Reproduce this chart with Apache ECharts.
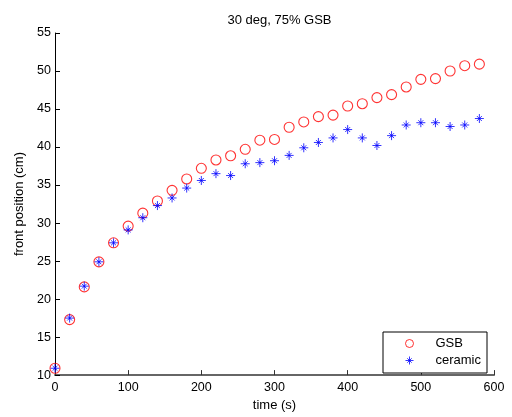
<!DOCTYPE html>
<html>
<head>
<meta charset="utf-8">
<script src="https://cdn.jsdelivr.net/npm/echarts@6/dist/echarts.min.js"></script>
<style>html,body{margin:0;padding:0;background:#fff}#c{width:512px;height:417px}</style>
</head>
<body>
<div id="c"></div>
<script>
var times = [0,20,40,60,80,100,120,140,160,180,200,220,240,260,280,300,320,340,360,380,400,420,440,460,480,500,520,540,560,580];
var gsb = [10.9,17.3,21.6,24.9,27.4,29.6,31.3,32.9,34.3,35.8,37.2,38.3,38.85,39.7,40.9,41.0,42.6,43.3,44.0,44.2,45.4,45.7,46.5,46.9,47.9,48.9,49.0,50.0,50.7,50.9];
var ceramic = [10.9,17.5,21.7,24.9,27.4,29.1,30.7,32.3,33.3,34.6,35.6,36.5,36.25,37.8,37.95,38.2,38.9,39.9,40.6,41.2,42.3,41.2,40.2,41.5,42.9,43.2,43.2,42.7,42.9,43.75];
var yTicks = [10,15,20,25,30,35,40,45,50,55];
var xTicks = [0,100,200,300,400,500,600];

var star = 'path://M0,-1L0,1M-1,0L1,0M-0.55,-0.55L0.55,0.55M-0.55,0.55L0.55,-0.55';
function pairs(xs, ys){ return xs.map(function(x,i){return [x, ys[i]];}); }
var font = 'Liberation Sans, Arial, sans-serif';
var chart = echarts.init(document.getElementById('c'), null, {renderer:'canvas'});
chart.setOption({
  animation:false,
  backgroundColor:'#fff',
  title:{text:'30 deg, 75% GSB', left:274.5, textAlign:'center', top:9,
    textStyle:{fontFamily:font, fontSize:13, fontWeight:'normal', color:'#000'}},
  grid:{left:55, right:18, top:33, bottom:38, containLabel:false},
  xAxis:{type:'value', min:0, max:600, interval:100,
    name:'time (s)', nameLocation:'middle', nameGap:22,
    nameTextStyle:{fontFamily:font, fontSize:13, color:'#000'},
    axisLine:{show:true, onZero:false, lineStyle:{color:'#666', width:2}},
    axisTick:{show:true, inside:true, length:5, lineStyle:{color:'#333'}},
    axisLabel:{fontFamily:font, fontSize:12.5, color:'#000', margin:6},
    splitLine:{show:false}},
  yAxis:{type:'value', min:10, max:55, interval:5,
    name:'front position (cm)', nameLocation:'middle', nameGap:27,
    nameTextStyle:{fontFamily:font, fontSize:13, color:'#000'},
    axisLine:{show:true, onZero:false, lineStyle:{color:'#000', width:1}},
    axisTick:{show:true, inside:true, length:5, lineStyle:{color:'#000'}},
    axisLabel:{fontFamily:font, fontSize:12.5, color:'#000', margin:4},
    splitLine:{show:false}},
  legend:{left:383, top:332, orient:'vertical', itemGap:4, itemWidth:42, itemHeight:8,
    padding:[5,6,6,22], borderColor:'#000', borderWidth:1, backgroundColor:'#fff',
    textStyle:{fontFamily:font, fontSize:13, color:'#000'},
    data:[
      {name:'GSB', icon:'circle', itemStyle:{color:'rgba(0,0,0,0)', borderColor:'#ff0000', borderWidth:1}},
      {name:'ceramic', icon:star, itemStyle:{color:'rgba(0,0,0,0)', borderColor:'#0000ff', borderWidth:1}}
    ]},
  series:[
    {name:'GSB', type:'scatter', data:pairs(times,gsb), symbol:'circle', symbolSize:10,
      itemStyle:{color:'rgba(0,0,0,0)', borderColor:'#ff0000', borderWidth:1.1}, z:2},
    {name:'ceramic', type:'scatter', data:pairs(times,ceramic), symbol:star, symbolSize:9,
      itemStyle:{color:'rgba(0,0,0,0)', borderColor:'#0000ff', borderWidth:1}, z:3}
  ]
});
</script>
</body>
</html>
